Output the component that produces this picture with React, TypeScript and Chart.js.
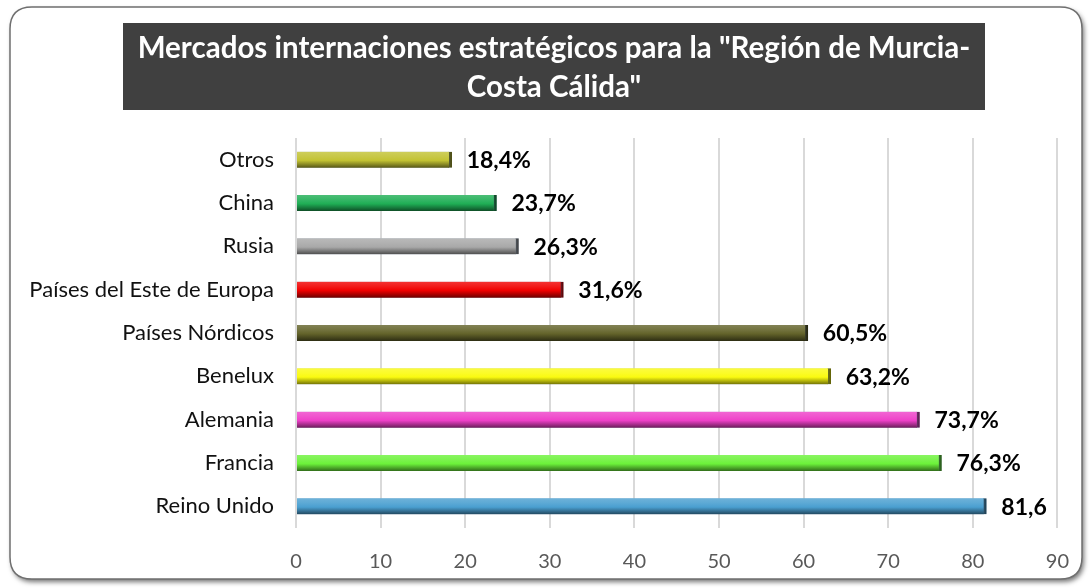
import React, { useEffect, useRef } from "react";
import { Chart, registerables } from "chart.js";
Chart.register(...registerables);

const categories = [
  "Otros",
  "China",
  "Rusia",
  "Países del Este de Europa",
  "Países Nórdicos",
  "Benelux",
  "Alemania",
  "Francia",
  "Reino Unido",
];
const values = [18.4, 23.7, 26.3, 31.6, 60.5, 63.2, 73.7, 76.3, 81.6];
const valueLabels = ["18,4%", "23,7%", "26,3%", "31,6%", "60,5%", "63,2%", "73,7%", "76,3%", "81,6"];
const barColors = [
  "#c2c233",
  "#1fae55",
  "#a8a8a8",
  "#f00000",
  "#63632a",
  "#fafa10",
  "#ee40c8",
  "#6cf23a",
  "#4a9fd0",
];
const titleLines = ['Mercados internaciones estratégicos para la "Región de Murcia-', 'Costa Cálida"'];
const xMin = 0;
const xMax = 90;
const xStep = 10;

const FONT = "Lato, 'Open Sans', sans-serif";

function mix(hex: string, target: number, t: number) {
  const n = parseInt(hex.slice(1), 16);
  const r = (n >> 16) & 255, g = (n >> 8) & 255, b = n & 255;
  const m = (c: number) => Math.round(c + (target - c) * t);
  return `rgb(${m(r)},${m(g)},${m(b)})`;
}

const BAR_H = 16;

const framePlugin = {
  id: "frame",
  beforeDraw(chart: any) {
    const ctx = chart.ctx;
    ctx.save();
    ctx.fillStyle = "#ffffff";
    ctx.fillRect(0, 0, chart.width, chart.height);
    const x = 10, y = 7, w = 1072, h = 572, r = 22;
    ctx.beginPath();
    ctx.moveTo(x + r, y);
    ctx.lineTo(x + w - r, y);
    ctx.quadraticCurveTo(x + w, y, x + w, y + r);
    ctx.lineTo(x + w, y + h - r);
    ctx.quadraticCurveTo(x + w, y + h, x + w - r, y + h);
    ctx.lineTo(x + r, y + h);
    ctx.quadraticCurveTo(x, y + h, x, y + h - r);
    ctx.lineTo(x, y + r);
    ctx.quadraticCurveTo(x, y, x + r, y);
    ctx.closePath();
    ctx.shadowColor = "rgba(0,0,0,0.55)";
    ctx.shadowBlur = 5;
    ctx.shadowOffsetX = 2;
    ctx.shadowOffsetY = 3;
    ctx.fillStyle = "#ffffff";
    ctx.fill();
    ctx.shadowColor = "transparent";
    ctx.lineWidth = 1.5;
    ctx.strokeStyle = "#6f6f6f";
    ctx.stroke();
    ctx.fillStyle = "#404040";
    ctx.fillRect(123, 23, 862, 87);
    ctx.fillStyle = "#ffffff";
    ctx.font = `bold 29.5px ${FONT}`;
    ctx.textAlign = "center";
    ctx.textBaseline = "middle";
    ctx.fillText(titleLines[0], 554, 48);
    ctx.fillText(titleLines[1], 554, 87);
    ctx.restore();
  },
};

const barStylePlugin = {
  id: "barStyle",
  beforeDatasetsDraw(chart: any) {
    const ctx = chart.ctx;
    ctx.save();
    ctx.shadowColor = "rgba(110,145,185,0.6)";
    ctx.shadowBlur = 3;
  },
  afterDatasetsDraw(chart: any) {
    const ctx = chart.ctx;
    ctx.restore();
    const meta = chart.getDatasetMeta(0);
    ctx.save();
    ctx.fillStyle = "#000000";
    ctx.font = `bold 23px ${FONT}`;
    ctx.textAlign = "left";
    ctx.textBaseline = "middle";
    meta.data.forEach((el: any, i: number) => {
      ctx.fillText(valueLabels[i], el.x + 15, el.y + 1);
    });
    ctx.restore();
  },
};

export default function App() {
  const ref = useRef<HTMLCanvasElement>(null);
  useEffect(() => {
    if (!ref.current) return;
    const chart = new Chart(ref.current, {
      type: "bar",
      data: {
        labels: categories,
        datasets: [
          {
            data: values,
            barThickness: BAR_H,
            backgroundColor: (c: any) => {
              const base = barColors[c.dataIndex] || "#888888";
              const ys = c.chart.scales && c.chart.scales.y;
              if (!ys || c.dataIndex == null) return base;
              const yc = ys.getPixelForValue(c.dataIndex);
              if (!isFinite(yc)) return base;
              const g = c.chart.ctx.createLinearGradient(0, yc - BAR_H / 2, 0, yc + BAR_H / 2);
              g.addColorStop(0, mix(base, 255, 0.2));
              g.addColorStop(0.3, mix(base, 255, 0.1));
              g.addColorStop(0.55, base);
              g.addColorStop(0.8, mix(base, 0, 0.3));
              g.addColorStop(1, mix(base, 0, 0.55));
              return g;
            },
            borderColor: (c: any) => mix(barColors[c.dataIndex] || "#888888", 0, 0.6),
            borderWidth: { top: 0, bottom: 0, left: 0, right: 3 },
            borderSkipped: false,
          },
        ],
      },
      options: {
        indexAxis: "y",
        responsive: false,
        animation: false,
        layout: { padding: { left: 10, right: 30, top: 138, bottom: 0 } },
        plugins: {
          legend: { display: false },
          title: { display: false },
          tooltip: { enabled: false },
        },
        scales: {
          x: {
            min: xMin,
            max: xMax,
            ticks: {
              stepSize: xStep,
              color: "#595959",
              font: { family: FONT, size: 20 },
              padding: 22,
            },
            grid: { color: "#d9d9d9", lineWidth: 2, drawTicks: false },
            border: { display: false },
            afterFit: (s: any) => {
              s.height = 60;
            },
          },
          y: {
            ticks: {
              color: "#111111",
              font: { family: FONT, size: 22 },
              padding: 14,
            },
            grid: { display: false },
            border: { display: false },
            afterFit: (s: any) => {
              s.width = 286;
            },
          },
        },
      },
      plugins: [framePlugin, barStylePlugin],
    } as any);
    return () => chart.destroy();
  }, []);
  return (
    <div style={{ position: "fixed", left: 0, top: 0, width: 1091, height: 588 }}>
      <canvas ref={ref} width={1091} height={588} />
    </div>
  );
}
